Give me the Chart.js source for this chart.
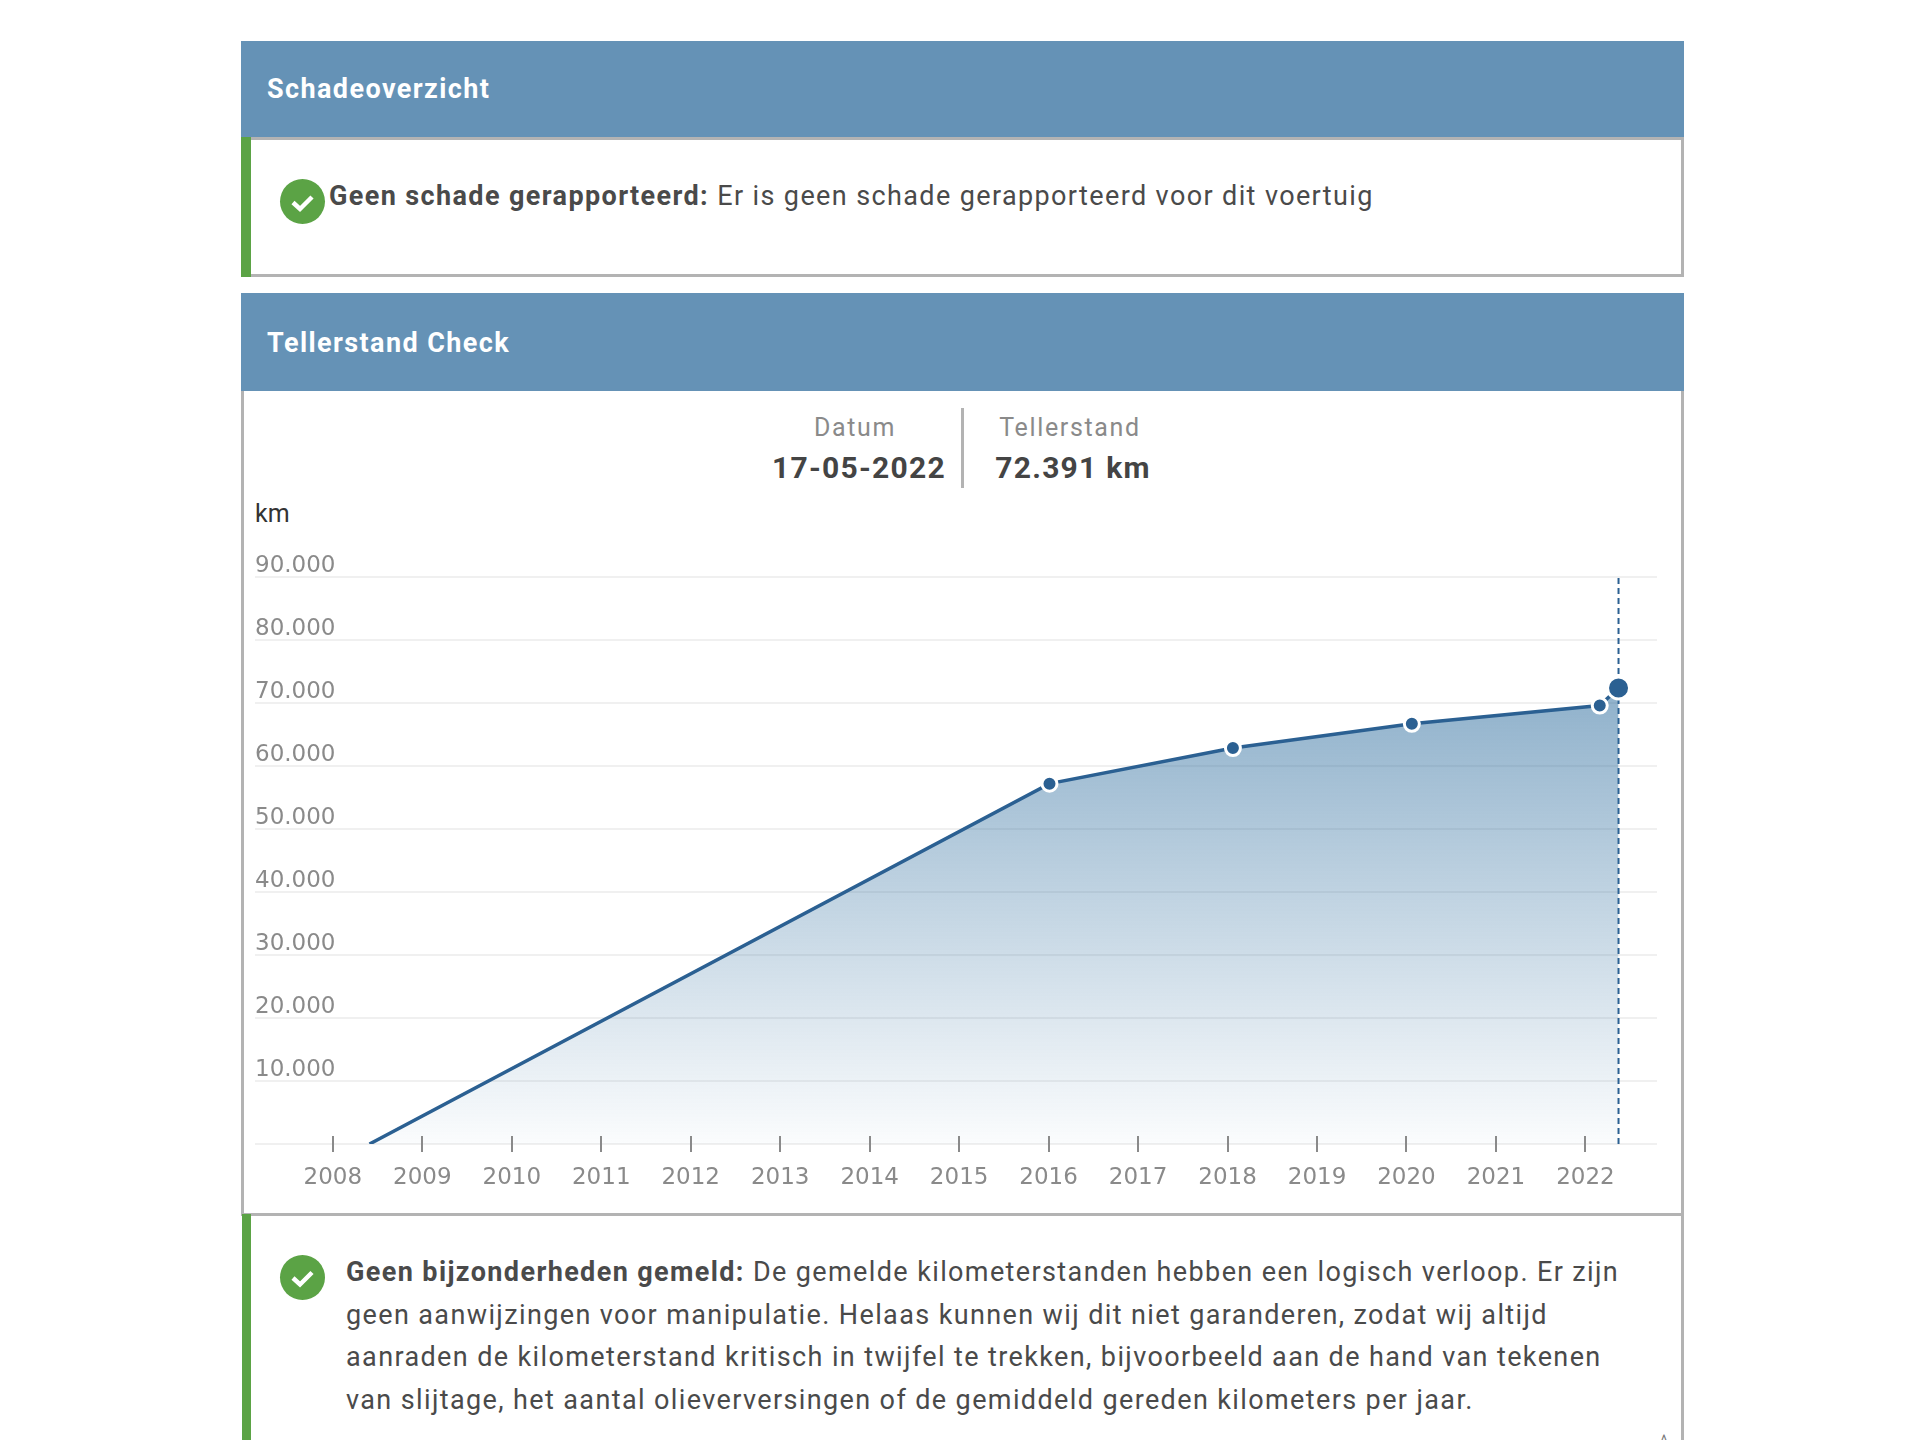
<!DOCTYPE html>
<html lang="nl">
<head>
<meta charset="utf-8">
<title>Tellerstand Check</title>
<script src="https://cdn.jsdelivr.net/npm/chart.js@4"></script>
<style>
html, body { margin: 0; padding: 0; background: #fff; }
body { position: relative; width: 1920px; height: 1440px; overflow: hidden; font-family: Roboto, sans-serif; color: #4a4a4a; }
.abs { position: absolute; white-space: nowrap; }
.header { position: absolute; left: 241px; width: 1443px; background: #6592b6; color: #fff; font-weight: 700; font-size: 27px; letter-spacing: 1.4px; }
.header span { position: absolute; left: 26px; top: 50%; transform: translateY(-50%); }
.bar { position: absolute; background: #5ba345; }
.line { position: absolute; background: #b3b3b3; }
.msg { font-size: 27px; letter-spacing: 1.38px; }
.meta-label { font-size: 25px; color: #8a8a8a; letter-spacing: 1.65px; transform: translateX(-50%); }
.meta-value { font-size: 30px; font-weight: 700; color: #444; letter-spacing: 1.25px; transform: translateX(-50%); }
#chartWrap { position: absolute; left: 255px; top: 540px; width: 1402px; height: 664px; }
</style>
</head>
<body>

<div class="header" style="top:41px;height:96px"><span>Schadeoverzicht</span></div>
<div class="line" style="left:250px;top:137px;width:1434px;height:3px"></div>
<div class="line" style="left:1681px;top:137px;width:3px;height:140px"></div>
<div class="line" style="left:250px;top:274px;width:1434px;height:3px"></div>
<div class="bar" style="top:137px;height:140px;left:241px;width:10px"></div>
<svg class="abs" style="left:279px;top:178px" width="47" height="47" viewBox="0 0 47 47">
  <circle cx="23.5" cy="23.5" r="22.5" fill="#5ba345"/>
  <path d="M14 24.5l7 6.5 12-12" fill="none" stroke="#fff" stroke-width="4.5"/>
</svg>
<div class="abs msg" style="left:329px;top:180px"><b>Geen schade gerapporteerd:</b> Er is geen schade gerapporteerd voor dit voertuig</div>

<div class="header" style="top:293px;height:98px"><span style="margin-top:1px">Tellerstand Check</span></div>
<div class="line" style="left:241px;top:391px;width:3px;height:825px"></div>
<div class="line" style="left:1681px;top:391px;width:3px;height:1049px"></div>
<div class="line" style="left:241px;top:1213px;width:1443px;height:3px"></div>

<div class="abs meta-label" style="left:855px;top:413px">Datum</div>
<div class="abs meta-value" style="left:859px;top:450px">17-05-2022</div>
<div class="line" style="left:961px;top:408px;width:3px;height:80px"></div>
<div class="abs meta-label" style="left:1070px;top:413px">Tellerstand</div>
<div class="abs meta-value" style="left:1073px;top:450px">72.391 km</div>
<div class="abs" style="left:255px;top:499px;font-size:25px;color:#333">km</div>

<div id="chartWrap"><canvas id="kmChart"></canvas></div>

<div class="bar" style="top:1214px;height:226px;left:242px;width:9px"></div>
<svg class="abs" style="left:279px;top:1254px" width="47" height="47" viewBox="0 0 47 47">
  <circle cx="23.5" cy="23.5" r="22.5" fill="#5ba345"/>
  <path d="M14 24l7 6.5 12-12" fill="none" stroke="#fff" stroke-width="4.5"/>
</svg>
<div class="abs msg" style="left:346px;top:1251px;line-height:42.6px"><b>Geen bijzonderheden gemeld:</b> De gemelde kilometerstanden hebben een logisch verloop. Er zijn<br>geen aanwijzingen voor manipulatie. Helaas kunnen wij dit niet garanderen, zodat wij altijd<br>aanraden de kilometerstand kritisch in twijfel te trekken, bijvoorbeeld aan de hand van tekenen<br>van slijtage, het aantal olieverversingen of de gemiddeld gereden kilometers per jaar.</div>
<div class="abs" style="left:1661px;top:1432px;font-size:14px;color:#777">^</div>

<script>
const readingYears = [2008.41, 2016.01, 2018.06, 2020.06, 2022.16, 2022.37];
const readingKm = [0, 57200, 62850, 66700, 69600, 72391];
const markerYears = [2022.37, 2022.37];
const markerKm = [0, 90000];
const yearTicks = [2008, 2009, 2010, 2011, 2012, 2013, 2014, 2015, 2016, 2017, 2018, 2019, 2020, 2021, 2022];
const kmTicks = [0, 10000, 20000, 30000, 40000, 50000, 60000, 70000, 80000, 90000];
const kmLabels = ['', '10.000', '20.000', '30.000', '40.000', '50.000', '60.000', '70.000', '80.000', '90.000'];

const axisFont = { family: '"DejaVu Sans"', size: 23 };
const axisColor = '#8a8a8a';
const lineColor = '#2b6092';

// tick marks straddle the x axis, chart.js only draws them below it
const crossTicks = {
    id: 'crossTicks',
    afterDatasetsDraw(chart) {
        const { ctx, scales } = chart;
        const base = scales.y.getPixelForValue(0);
        ctx.save();
        ctx.strokeStyle = axisColor;
        ctx.lineWidth = 2;
        ctx.beginPath();
        scales.x.ticks.forEach((tick) => {
            const x = Math.round(scales.x.getPixelForValue(tick.value));
            ctx.moveTo(x, base - 8);
            ctx.lineTo(x, base + 8);
        });
        ctx.stroke();
        ctx.restore();
    },
};

new Chart(document.getElementById('kmChart'), {
    type: 'line',
    plugins: [crossTicks],
    data: {
        datasets: [
            {
                label: 'Afstand',
                data: readingYears.map((year, i) => ({ x: year, y: readingKm[i] })),
                borderColor: lineColor,
                borderWidth: 3.5,
                tension: 0,
                fill: 'origin',
                backgroundColor(context) {
                    const { ctx, chartArea, scales } = context.chart;
                    if (!chartArea) return 'rgba(43, 98, 150, 0.3)';
                    const top = scales.y.getPixelForValue(72391);
                    const gradient = ctx.createLinearGradient(0, top, 0, chartArea.bottom);
                    gradient.addColorStop(0, 'rgba(40, 105, 155, 0.52)');
                    gradient.addColorStop(1, 'rgba(40, 105, 155, 0.02)');
                    return gradient;
                },
                pointBackgroundColor: lineColor,
                pointBorderColor: '#fff',
                pointBorderWidth: 3,
                pointRadius: (c) => (c.dataIndex === 0 ? 0 : c.dataIndex === readingKm.length - 1 ? 11 : 7.5),
            },
            {
                label: 'Laatste stand',
                data: markerYears.map((year, i) => ({ x: year, y: markerKm[i] })),
                borderColor: lineColor,
                borderWidth: 2,
                borderDash: [6, 4],
                pointRadius: 0,
                fill: false,
            },
        ],
    },
    options: {
        responsive: true,
        maintainAspectRatio: false,
        animation: false,
        layout: { autoPadding: false, padding: { top: 37, left: 0, right: 0, bottom: 0 } },
        plugins: { legend: { display: false }, tooltip: { enabled: false } },
        scales: {
            x: {
                type: 'linear',
                min: 2007.13,
                max: 2022.8,
                grid: { display: false },
                border: { display: false },
                afterBuildTicks: (scale) => { scale.ticks = yearTicks.map((value) => ({ value })); },
                afterFit: (scale) => {
                    scale.height = 60;
                    scale.paddingLeft = 0;
                    scale.paddingRight = 0;
                },
                ticks: {
                    autoSkip: false,
                    maxRotation: 0,
                    padding: 12,
                    color: axisColor,
                    font: axisFont,
                    callback: (value) => String(value),
                },
            },
            y: {
                min: 0,
                max: 90000,
                border: { display: false },
                grid: { color: 'rgba(0, 0, 0, 0.06)', lineWidth: 2, drawTicks: false },
                afterBuildTicks: (scale) => { scale.ticks = kmTicks.map((value) => ({ value })); },
                afterFit: (scale) => { scale.width = 0; },
                ticks: {
                    mirror: true,
                    padding: 0,
                    labelOffset: -11,
                    color: axisColor,
                    font: axisFont,
                    callback: (value, index) => kmLabels[index],
                },
            },
        },
    },
});
</script>
</body>
</html>
